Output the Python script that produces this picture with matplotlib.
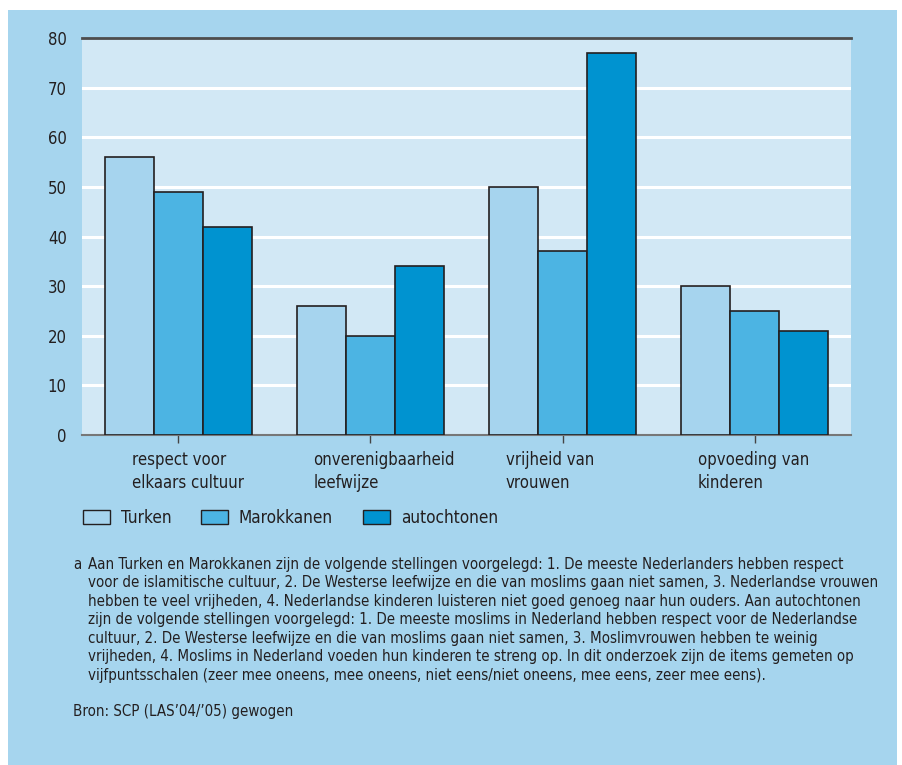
import matplotlib.pyplot as plt
import matplotlib.patches as mpatches
import numpy as np

plt.rcParams['font.family'] = ['DejaVu Sans']
plt.rcParams['font.stretch'] = 'condensed'

# Gegevens
categorieen = ["respect voor\nelkaars cultuur", "onverenigbaarheid\nleefwijze",
               "vrijheid van\nvrouwen", "opvoeding van\nkinderen"]
turken = [56, 26, 50, 30]
marokkanen = [49, 20, 37, 25]
autochtonen = [42, 34, 77, 21]
groepen = ["Turken", "Marokkanen", "autochtonen"]
y_ticks = [0, 10, 20, 30, 40, 50, 60, 70, 80]

kleur_achtergrond = "#a6d5ee"
kleur_plot = "#d2e8f5"
kleuren = ["#a6d4ee", "#4cb4e3", "#0093d0"]
tekstkleur = "#231f20"

fig = plt.figure(figsize=(9.02, 7.65), dpi=100)
fig.patch.set_facecolor("white")

# blauw paneel achter de figuur
fig.patches.append(mpatches.Rectangle((8 / 902, 0), 889 / 902, 1 - 10 / 765,
                                      transform=fig.transFigure,
                                      facecolor=kleur_achtergrond, edgecolor="none", zorder=-10))

ax = fig.add_axes([82 / 902, 1 - 435 / 765, 769 / 902, 397 / 765])
ax.set_facecolor(kleur_plot)

x = np.arange(len(categorieen))
w = 0.255
for i, (waarden, kleur) in enumerate(zip([turken, marokkanen, autochtonen], kleuren)):
    ax.bar(x + (i - 1) * w, waarden, width=w, color=kleur, edgecolor=tekstkleur,
           linewidth=1.2, zorder=3)

ax.set_xlim(-0.5, 3.5)
ax.set_ylim(0, 80)
ax.set_yticks(y_ticks)
ax.set_yticklabels([str(v) for v in y_ticks], fontsize=12, color=tekstkleur)
ax.tick_params(axis="y", length=0, pad=11)
ax.set_xticks(x)
ax.set_xticklabels([])
ax.tick_params(axis="x", length=6, width=1, color="#444444", direction="out")

for yv in y_ticks[1:-1]:
    ax.axhline(yv, color="white", linewidth=2.2, zorder=1)
ax.axhline(80, color="#4d4d4d", linewidth=2, zorder=4, clip_on=False)

for s in ["left", "right", "top"]:
    ax.spines[s].set_visible(False)
ax.spines["bottom"].set_color("#777777")
ax.spines["bottom"].set_linewidth(1.5)

# categorielabels, links uitgelijnd
label_dx = [-0.24, -0.297, -0.297, -0.297]
for xi, dx, lab in zip(x, label_dx, categorieen):
    ax.text(xi + dx, -3.3, lab, ha="left", va="top", fontsize=12,
            color=tekstkleur, linespacing=1.3)

# legenda
leg_x = [83, 201, 363]
for lx, naam, kleur in zip(leg_x, groepen, kleuren):
    fig.patches.append(mpatches.Rectangle((lx / 902, 1 - 524 / 765), 27 / 902, 14 / 765,
                                          transform=fig.transFigure, facecolor=kleur,
                                          edgecolor=tekstkleur, linewidth=1))
    fig.text((lx + 38) / 902, 1 - 518 / 765, naam, ha="left", va="center",
             fontsize=12.3, color=tekstkleur)

noot = ("Aan Turken en Marokkanen zijn de volgende stellingen voorgelegd: 1. De meeste Nederlanders hebben respect\n"
        "voor de islamitische cultuur, 2. De Westerse leefwijze en die van moslims gaan niet samen, 3. Nederlandse vrouwen\n"
        "hebben te veel vrijheden, 4. Nederlandse kinderen luisteren niet goed genoeg naar hun ouders. Aan autochtonen\n"
        "zijn de volgende stellingen voorgelegd: 1. De meeste moslims in Nederland hebben respect voor de Nederlandse\n"
        "cultuur, 2. De Westerse leefwijze en die van moslims gaan niet samen, 3. Moslimvrouwen hebben te weinig\n"
        "vrijheden, 4. Moslims in Nederland voeden hun kinderen te streng op. In dit onderzoek zijn de items gemeten op\n"
        "vijfpuntsschalen (zeer mee oneens, mee oneens, niet eens/niet oneens, mee eens, zeer mee eens).")
fig.text(73 / 902, 1 - 557 / 765, "a", ha="left", va="top", fontsize=10.8, color=tekstkleur)
fig.text(88 / 902, 1 - 557 / 765, noot, ha="left", va="top", fontsize=10.8,
         color=tekstkleur, linespacing=1.29)
fig.text(73 / 902, 1 - 704 / 765, "Bron: SCP (LAS\u201904/\u201905) gewogen", ha="left", va="top",
         fontsize=10.8, color=tekstkleur)

fig.savefig("out.png", dpi=100, facecolor=fig.get_facecolor())
